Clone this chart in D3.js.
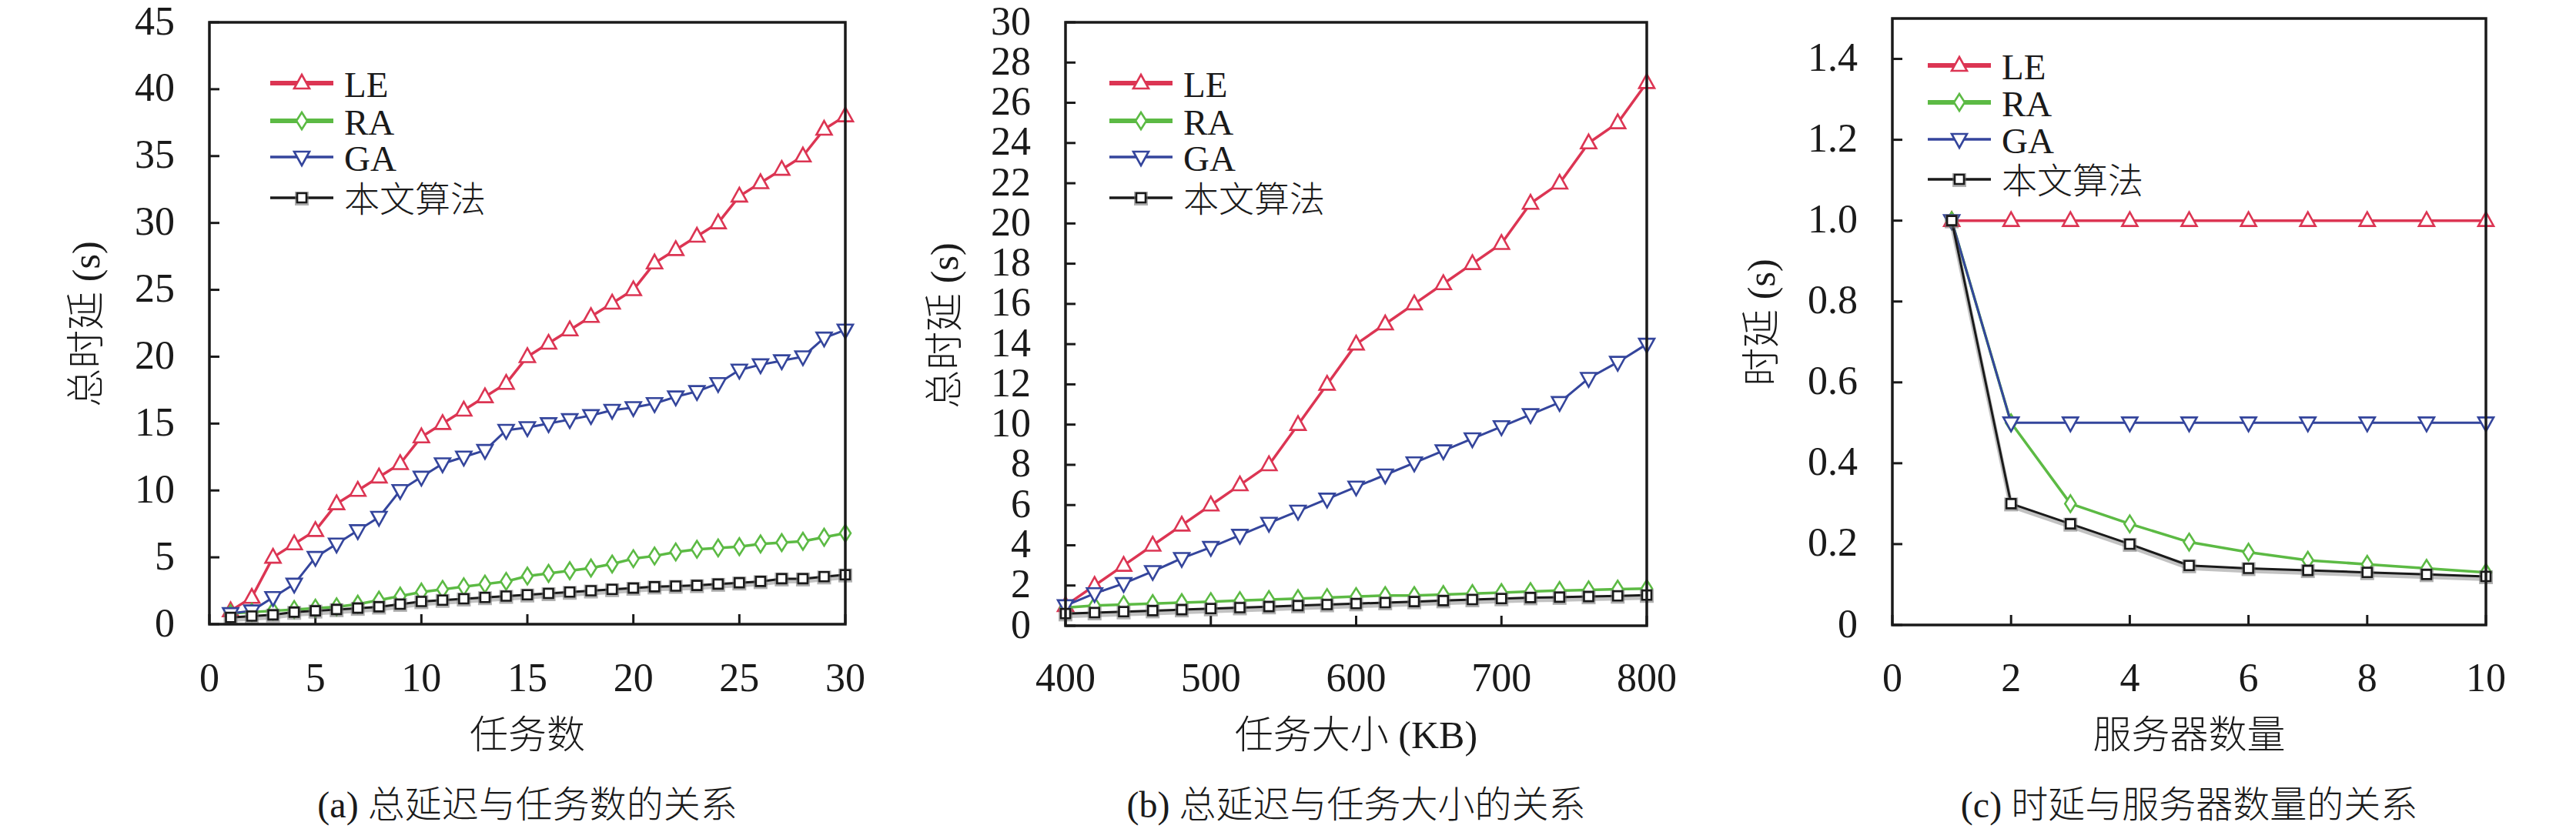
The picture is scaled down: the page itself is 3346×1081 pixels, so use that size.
<!DOCTYPE html>
<html><head><meta charset="utf-8">
<script src="https://cdn.jsdelivr.net/npm/d3@7/dist/d3.min.js"></script>
<style>
html,body{margin:0;padding:0;background:#fff;}
text{font-family:"Liberation Serif","Noto Sans CJK SC",serif;fill:#1a1a1a;}
.cjk{font-weight:300;}
</style></head>
<body>
<svg id="chart" width="3346" height="1081"></svg>
<script>
// ---------- DATA ----------
const seriesNames = ["LE", "RA", "GA", "本文算法"];

// (a) total delay vs number of tasks
const aX = [1,2,3,4,5,6,7,8,9,10,11,12,13,14,15,16,17,18,19,20,21,22,23,24,25,26,27,28,29,30];
const aLE = [1,2,5,6,7,9,10,11,12,14,15,16,17,18,20,21,22,23,24,25,27,28,29,30,32,33,34,35,37,38];
const aRA = [0.8,0.9,1.0,1.1,1.2,1.3,1.5,1.8,2.1,2.4,2.6,2.8,3.0,3.2,3.6,3.8,4.0,4.2,4.5,4.9,5.1,5.4,5.6,5.7,5.8,6.0,6.1,6.2,6.5,6.8];
const aGA = [0.8,1.0,2.0,3.0,5.0,6.0,7.0,8.0,10.0,11.0,12.0,12.5,13.0,14.5,14.7,15.0,15.3,15.6,16.0,16.2,16.5,17.0,17.4,18.0,19.0,19.4,19.7,20.0,21.4,22.0];
const aOurs = [0.5,0.6,0.7,0.9,1.0,1.1,1.2,1.3,1.5,1.7,1.8,1.9,2.0,2.1,2.2,2.3,2.4,2.5,2.6,2.7,2.8,2.85,2.9,3.0,3.1,3.2,3.4,3.4,3.55,3.7];
const aXTicks = [0,5,10,15,20,25,30];
const aYTicks = [0,5,10,15,20,25,30,35,40,45];

// (b) total delay vs task size
const bX = [400,420,440,460,480,500,520,540,560,580,600,620,640,660,680,700,720,740,760,780,800];
const bLE = [1,2,3,4,5,6,7,8,10,12,14,15,16,17,18,19,21,22,24,25,27];
const bRA = [0.9,1.0,1.05,1.1,1.15,1.2,1.25,1.3,1.35,1.4,1.45,1.5,1.5,1.55,1.6,1.65,1.7,1.75,1.78,1.82,1.85];
const bGA = [1.0,1.6,2.1,2.7,3.35,3.9,4.5,5.1,5.7,6.3,6.9,7.5,8.1,8.7,9.3,9.9,10.5,11.1,12.3,13.1,14.0];
const bOurs = [0.6,0.65,0.7,0.75,0.8,0.85,0.9,0.95,1.0,1.05,1.1,1.15,1.2,1.25,1.3,1.35,1.4,1.42,1.45,1.48,1.52];
const bXTicks = [400,500,600,700,800];
const bYTicks = [0,2,4,6,8,10,12,14,16,18,20,22,24,26,28,30];

// (c) delay vs number of servers
const cX = [1,2,3,4,5,6,7,8,9,10];
const cLE = [1,1,1,1,1,1,1,1,1,1];
const cRA = [1.0,0.5,0.3,0.25,0.205,0.18,0.16,0.15,0.14,0.13];
const cGA = [1.0,0.5,0.5,0.5,0.5,0.5,0.5,0.5,0.5,0.5];
const cOurs = [1.0,0.3,0.25,0.2,0.147,0.14,0.135,0.13,0.125,0.12];
const cXTicks = [0,2,4,6,8,10];
const cYTicks = [0,0.2,0.4,0.6,0.8,1.0,1.2,1.4];

const captions = ["(a) 总延迟与任务数的关系", "(b) 总延迟与任务大小的关系", "(c) 时延与服务器数量的关系"];
const xTitles = ["任务数", "任务大小 (KB)", "服务器数量"];
const yTitles = ["总时延 (s)", "总时延 (s)", "时延 (s)"];

// ---------- STYLE ----------
const styles = [
  {color:"#dc3553", lw:3.5, legLw:6, shape:"up"},
  {color:"#5cba44", lw:3.5, legLw:6, shape:"diamond"},
  {color:"#34459c", lw:3, legLw:3.5, shape:"down"},
  {color:"#1a1a1a", lw:3, legLw:3.5, shape:"square"}
];

const shapePath = {
  up: "M0,-11L10,7L-10,7Z",
  down: "M0,11L10,-7L-10,-7Z",
  diamond: "M0,-11L7,0L0,11L-7,0Z",
  square: "M-6,-6L6,-6L6,6L-6,6Z"
};

const svg = d3.select("#chart");
const intFmt = d => String(d);

const panels = [
  {left:272, right:1098, top:29, bottom:811, xd:[0,30], yd:[0,45], xt:aXTicks, yt:aYTicks,
   xs:aX, ys:[aLE,aRA,aGA,aOurs], xfmt:intFmt, yfmt:intFmt,
   leg:{x1:351, tx:447, rows:[108,157,204,257]}, ylx:112, yly:421},
  {left:1384, right:2139, top:29, bottom:813, xd:[400,800], yd:[0,30], xt:bXTicks, yt:bYTicks,
   xs:bX, ys:[bLE,bRA,bGA,bOurs], xfmt:intFmt, yfmt:intFmt,
   leg:{x1:1441, tx:1537, rows:[108,157,204,257]}, ylx:1227, yly:423},
  {left:2458, right:3229, top:24, bottom:812, xd:[0,10], yd:[0,1.5], xt:cXTicks, yt:cYTicks,
   xs:cX, ys:[cLE,cRA,cGA,cOurs], xfmt:intFmt, yfmt:d => d === 0 ? "0" : d.toFixed(1),
   leg:{x1:2504, tx:2600, rows:[85,133,181,233]}, ylx:2288, yly:419}
];

function drawMarker(g, shape, color, x, y) {
  if (shape === "square") {
    g.append("rect").attr("x", x-9).attr("y", y-8).attr("width", 18).attr("height", 18)
      .attr("fill", "#6f6f6f").attr("opacity", 0.55);
  }
  g.append("path").attr("d", shapePath[shape])
    .attr("transform", `translate(${x},${y})`)
    .attr("fill", "#fff").attr("stroke", color).attr("stroke-width", 2.6);
}

panels.forEach((p, pi) => {
  const g = svg.append("g");
  const x = d3.scaleLinear().domain(p.xd).range([p.left, p.right]);
  const y = d3.scaleLinear().domain(p.yd).range([p.bottom, p.top]);

  // inner ticks and labels
  const tl = 13;
  p.xt.forEach(t => {
    g.append("line").attr("x1", x(t)).attr("x2", x(t)).attr("y1", p.bottom).attr("y2", p.bottom - tl)
      .attr("stroke", "#1a1a1a").attr("stroke-width", 3);
    g.append("text").attr("x", x(t)).attr("y", 880).attr("text-anchor", "middle")
      .attr("dominant-baseline", "central").style("font-size", "52px").text(p.xfmt(t));
  });
  p.yt.forEach(t => {
    g.append("line").attr("x1", p.left).attr("x2", p.left + tl).attr("y1", y(t)).attr("y2", y(t))
      .attr("stroke", "#1a1a1a").attr("stroke-width", 3);
    g.append("text").attr("x", p.left - 45).attr("y", y(t) - 2).attr("text-anchor", "end")
      .attr("dominant-baseline", "central").style("font-size", "52px").text(p.yfmt(t));
  });

  // series
  p.ys.forEach((vals, si) => {
    const st = styles[si];
    const pts = p.xs.map((xv, i) => [x(xv), y(vals[i])]);
    const line = d3.line();
    if (si === 3) {
      g.append("path").attr("d", line(pts.map(d => [d[0], d[1] + 3]))).attr("fill", "none")
        .attr("stroke", "#777").attr("stroke-width", 6).attr("opacity", 0.45);
    }
    g.append("path").attr("d", line(pts)).attr("fill", "none")
      .attr("stroke", st.color).attr("stroke-width", st.lw).attr("stroke-linejoin", "round");
    const mg = g.append("g");
    pts.forEach(d => drawMarker(mg, st.shape, st.color, d[0], d[1]));
  });

  // frame
  g.append("rect").attr("x", p.left).attr("y", p.top)
    .attr("width", p.right - p.left).attr("height", p.bottom - p.top)
    .attr("fill", "none").attr("stroke", "#1a1a1a").attr("stroke-width", 3.5);

  // legend
  seriesNames.forEach((name, si) => {
    const st = styles[si];
    const ry = p.leg.rows[si];
    g.append("line").attr("x1", p.leg.x1).attr("x2", p.leg.x1 + 82).attr("y1", ry).attr("y2", ry)
      .attr("stroke", st.color).attr("stroke-width", st.legLw);
    drawMarker(g, st.shape, st.color, p.leg.x1 + 41, ry);
    g.append("text").attr("class", "cjk").attr("x", p.leg.tx).attr("y", ry + 2)
      .attr("dominant-baseline", "central")
      .style("font-size", si === 3 ? "46px" : "47px").text(name);
  });

  // axis titles
  g.append("text").attr("class", "cjk").attr("x", (p.left + p.right) / 2).attr("y", 955)
    .attr("text-anchor", "middle").attr("dominant-baseline", "central")
    .style("font-size", "50px").text(xTitles[pi]);
  g.append("text").attr("class", "cjk").attr("transform", `translate(${p.ylx},${p.yly}) rotate(-90)`)
    .attr("text-anchor", "middle").attr("dominant-baseline", "central")
    .style("font-size", "50px").text(yTitles[pi]);
  g.append("text").attr("class", "cjk").attr("x", (p.left + p.right) / 2).attr("y", 1045)
    .attr("text-anchor", "middle").attr("dominant-baseline", "central")
    .style("font-size", "48px").text(captions[pi]);
});
</script>
</body></html>
